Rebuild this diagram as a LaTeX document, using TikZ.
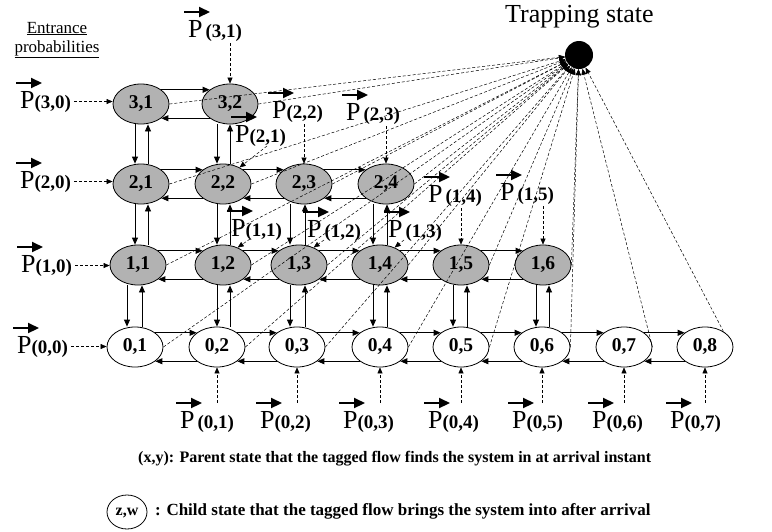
\documentclass[tikz,border=0pt]{standalone}
\usepackage{fontspec}
\setmainfont{Liberation Serif}
\usetikzlibrary{arrows.meta,calc,shapes.geometric}
% vector probability label: large P followed by the bold state index
\newcommand{\Pv}[1]{{\fontsize{26}{26}\selectfont P}{\fontsize{19}{19}\selectfont\bfseries(#1)}}
\newcommand{\Pvs}[1]{{\fontsize{26}{26}\selectfont P}\hspace{3pt}{\fontsize{19}{19}\selectfont\bfseries(#1)}}
\begin{document}
\begin{tikzpicture}[x=1pt,y=-1pt,
  state/.style={ellipse,draw,line width=0.8pt,minimum width=56pt,minimum height=40pt,
                inner sep=0pt,font=\fontsize{19.5}{19.5}\selectfont\bfseries},
  busy/.style={state,fill=gray!60},
  idle/.style={state,fill=white},
  tr/.style={-{Triangle[length=7pt,width=6pt]},line width=0.8pt},
  dsh/.style={-{Triangle[length=6pt,width=5pt]},line width=0.5pt,dash pattern=on 3pt off 2pt},
  vp/.style={anchor=base west,inner sep=0pt},
  varr/.style={-{Triangle[length=11pt,width=10pt]},line width=2.2pt}]
\useasboundingbox (0,0) rectangle (772,531);

% states
\node[busy] (n31) at (141,104) {3,1};
\node[busy] (n32) at (230,104) {3,2};
\node[busy] (n21) at (141,184) {2,1};
\node[busy] (n22) at (223,184) {2,2};
\node[busy] (n23) at (304,184) {2,3};
\node[busy] (n24) at (386,184) {2,4};
\node[busy] (n11) at (138,265) {1,1};
\node[busy] (n12) at (223,265) {1,2};
\node[busy] (n13) at (299,265) {1,3};
\node[busy] (n14) at (380,265) {1,4};
\node[busy] (n15) at (461,265) {1,5};
\node[busy] (n16) at (543,265) {1,6};
\node[idle] (n01) at (135,347) {0,1};
\node[idle] (n02) at (217,347) {0,2};
\node[idle] (n03) at (297,347) {0,3};
\node[idle] (n04) at (380,347) {0,4};
\node[idle] (n05) at (461,347) {0,5};
\node[idle] (n06) at (542,347) {0,6};
\node[idle] (n07) at (624,347) {0,7};
\node[idle] (n08) at (705,347) {0,8};

% trapping state
\node[circle,fill=black,minimum size=28pt,inner sep=0pt] (trap) at (579,55) {};
\node[anchor=base west,inner sep=0pt,font=\fontsize{26}{26}\selectfont] (tlab) at (505,22) {Trapping state};

% horizontal transitions
\foreach \a/\b in {n31/n32,n21/n22,n22/n23,n23/n24,n11/n12,n12/n13,n13/n14,n14/n15,n15/n16,
                   n01/n02,n02/n03,n03/n04,n04/n05,n05/n06,n06/n07,n07/n08}{
  \draw[tr] (\a.35) -- (\b.145);
  \draw[tr] (\b.215) -- (\a.325);
}

% vertical transitions
\foreach \u/\l/\xa/\xb in {n31/n21/135/148,n32/n22/217/230,n21/n11/135/148,n22/n12/217/230,
                           n23/n13/290/305,n24/n14/373/387,n11/n01/127/142,n12/n02/217/230,
                           n13/n03/290/305,n14/n04/373/387,n15/n05/453/467,n16/n06/536/549}{
  \draw[tr] (\xa,0 |- \u.south) -- (\xa,0 |- \l.north);
  \draw[tr] (\xb,0 |- \l.north) -- (\xb,0 |- \u.south);
}

% transitions into the trapping state
\foreach \n in {n31,n32,n21,n22,n23,n24,n11,n12,n13,n14,n15,n16,n01,n02,n03,n04,n05,n06,n07}
  \draw[dsh] (\n.east) -- (trap);
\draw[dsh] (n08.40) -- (trap);

% entrance probabilities
\node[anchor=base,inner sep=0pt,font=\fontsize{17}{17}\selectfont] (ent1) at (57,33) {\underline{Entrance}};
\node[anchor=base,inner sep=0pt,font=\fontsize{17}{17}\selectfont] (ent2) at (57,52) {\underline{probabilities}};

\node[vp] (p30) at (20,108) {\Pv{3,0}};
\node[vp] (p20) at (20,188) {\Pv{2,0}};
\node[vp] (p10) at (21,272) {\Pv{1,0}};
\node[vp] (p00) at (17,353) {\Pv{0,0}};
\node[vp] (p31) at (188,37) {\Pvs{3,1}};
\node[vp] (p22) at (272,118) {\Pv{2,2}};
\node[vp] (p23) at (346,120) {\Pvs{2,3}};
\node[vp] (p21) at (235,142) {\Pv{2,1}};
\node[vp] (p11) at (231,236) {\Pv{1,1}};
\node[vp] (p12) at (307,237) {\Pvs{1,2}};
\node[vp] (p13) at (388,237) {\Pvs{1,3}};
\node[vp] (p14) at (428,202) {\Pvs{1,4}};
\node[vp] (p15) at (500,200) {\Pvs{1,5}};
\node[vp] (p01) at (180,428) {\Pvs{0,1}};
\node[vp] (p02) at (260,428) {\Pv{0,2}};
\node[vp] (p03) at (343,428) {\Pv{0,3}};
\node[vp] (p04) at (428,428) {\Pv{0,4}};
\node[vp] (p05) at (512,428) {\Pv{0,5}};
\node[vp] (p06) at (592,428) {\Pv{0,6}};
\node[vp] (p07) at (670,428) {\Pv{0,7}};

% vector arrows over the P's
\foreach \q in {p30,p20,p10,p00,p31,p22,p23,p21,p11,p12,p13,p14,p15,p01,p02,p03,p04,p05,p06,p07}
  \draw[varr] ($(\q.base west)+(-4,-25)$) -- ++(26,0);

% entrance arrows from the left
\foreach \q/\n in {p30/n31,p20/n21,p10/n11,p00/n01}
  \draw[dsh,shorten <=3pt] (\q.east) -- (\q.east -| \n.west);

% entrance arrows from above
\foreach \q/\n in {p31/n32,p22/n23,p23/n24,p14/n15,p15/n16}
  \draw[dsh,shorten <=2pt] (\q.south -| \n.north) -- (\n.north);

% entrance arrows, diagonal
\draw[dsh] ($(p21.base west)+(32,4)$) -- (n22.45);
\draw[dsh] ($(p11.base west)+(19,3)$) -- (n12.50);
\draw[dsh] ($(p12.base west)+(17,3)$) -- (n13.50);
\draw[dsh] ($(p13.base west)+(16,3)$) -- (n14.50);

% entrance arrows from below
\foreach \q/\n in {p01/n02,p02/n03,p03/n04,p04/n05,p05/n06,p06/n07,p07/n08}
  \draw[dsh] ($(\q.north -| \n.south)+(0,-8)$) -- (\n.south);

% legend
\node[anchor=base west,inner sep=0pt,font=\fontsize{16}{16}\selectfont\bfseries] (leg1) at (138,462)
  {(x,y): Parent state that the tagged flow finds the system in at arrival instant};
\node[ellipse,draw,line width=0.8pt,minimum width=40pt,minimum height=34pt,inner sep=0pt,
      text depth=0pt,font=\fontsize{16}{16}\selectfont\bfseries] (zw) at (127,512) {z,w};
\node[anchor=base west,inner sep=0pt,font=\fontsize{17}{17}\selectfont\bfseries] (leg2) at (155,515)
  {: Child state that the tagged flow brings the system into after arrival};
\end{tikzpicture}
\end{document}
